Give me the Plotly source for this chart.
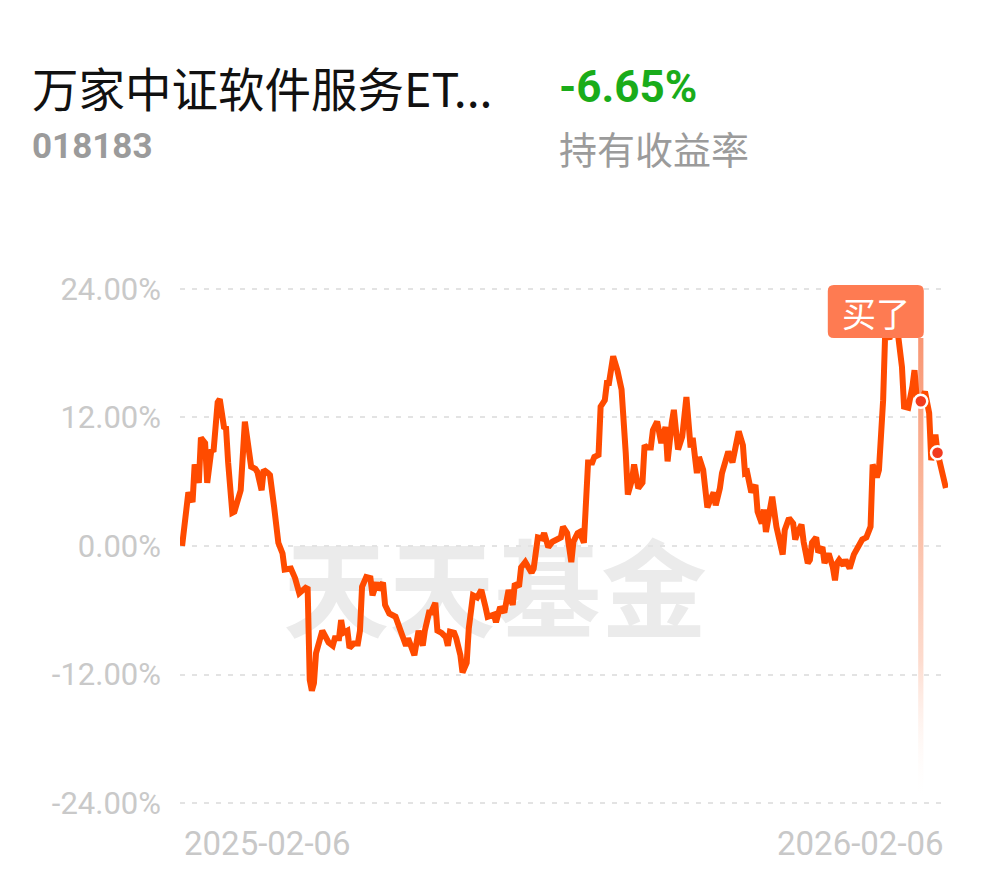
import plotly.graph_objects as go

# ---------------- data ----------------
fund_name = "万家中证软件服务ET..."
fund_code = "018183"
holding_return = "-6.65%"
holding_label = "持有收益率"
start_label = "2025-02-06"
end_label = "2026-02-06"
watermark = "天天基金"
buy_text = "买了"

y_ticks = [-24, -12, 0, 12, 24]
y_tick_text = ["-24.00%", "-12.00%", "0.00%", "12.00%", "24.00%"]

# calendar-day offset from 2025-02-06
days = [0, 3, 5, 6, 8, 9, 11, 12, 14, 15, 17, 18, 20, 21, 22, 24, 25, 28, 30, 31,
        33, 35, 36, 38, 39, 41, 42, 44, 46, 48, 49, 52, 54, 56, 59, 60, 61, 62, 63, 64,
        65, 67, 70, 72, 73, 75, 76, 77, 79, 80, 82, 84, 85, 86, 88, 90, 91, 93, 94, 96,
        97, 99, 102, 103, 105, 107, 108, 110, 111, 113, 115, 116, 118, 119, 121, 122, 124, 126, 127, 128,
        130, 131, 133, 134, 136, 137, 139, 141, 143, 145, 146, 149, 150, 152, 154, 156, 158, 159, 161, 162,
        164, 167, 168, 170, 172, 173, 175, 177, 179, 181, 182, 184, 186, 187, 189, 190, 192, 193, 194, 196,
        197, 199, 200, 202, 203, 204, 206, 208, 209, 210, 212, 213, 215, 216, 218, 220, 221, 222, 224, 225,
        227, 228, 229, 231, 232, 234, 235, 236, 237, 239, 240, 241, 243, 244, 246, 247, 249, 251, 252, 254,
        255, 257, 258, 261, 263, 265, 266, 268, 269, 270, 272, 274, 275, 277, 278, 279, 281, 282, 284, 287,
        288, 290, 292, 293, 294, 296, 297, 299, 300, 301, 303, 304, 306, 307, 309, 311, 312, 313, 314, 316,
        317, 319, 321, 323, 325, 327, 329, 330, 332, 333, 335, 336, 338, 340, 341, 342, 344, 345, 347, 349,
        350, 351, 353, 355, 357, 358, 360, 361, 365]

# holding return, %
returns = [0.0, 5.0, 4.1, 7.6, 5.9, 10.1, 9.6, 5.9, 9.0, 8.8, 13.4, 13.7, 11.1, 11.0, 7.8, 3.1, 3.2, 5.2, 11.6, 10.2,
           7.4, 7.2, 6.9, 5.2, 7.1, 6.8, 6.6, 3.6, 0.3, -0.7, -2.2, -2.1, -3.0, -4.4, -3.9, -4.0, -12.5, -13.5, -12.8, -10.0,
           -9.2, -7.9, -9.0, -9.3, -8.6, -8.6, -6.9, -8.1, -7.9, -9.5, -9.1, -9.1, -7.9, -3.8, -2.9, -3.0, -4.6, -3.4, -4.1, -3.4,
           -5.5, -6.3, -6.6, -7.1, -8.3, -9.3, -8.6, -9.5, -10.2, -7.9, -9.3, -7.9, -6.2, -6.2, -5.3, -7.9, -8.1, -8.5, -9.3, -8.0,
           -8.1, -8.6, -10.2, -11.8, -10.9, -7.7, -4.6, -4.8, -4.1, -5.7, -6.6, -6.4, -7.1, -5.7, -6.2, -4.1, -5.5, -3.5, -3.8, -2.0,
           -1.5, -2.5, -2.1, 0.8, 0.7, 1.2, -0.1, 0.4, 0.6, 0.8, 1.8, 1.2, -1.5, 0.4, 1.2, 1.3, 0.3, 5.2, 7.8, 7.8,
           8.3, 8.5, 13.0, 13.6, 15.2, 15.2, 17.7, 16.4, 15.5, 14.6, 8.7, 4.8, 6.2, 7.6, 5.4, 5.9, 9.4, 9.2, 9.2, 10.8,
           11.6, 10.4, 9.6, 11.1, 7.9, 11.5, 12.7, 10.8, 9.0, 10.2, 11.8, 13.9, 9.2, 10.1, 6.8, 8.3, 7.1, 3.6, 4.1, 5.0,
           3.8, 5.4, 6.8, 8.8, 7.8, 9.6, 10.7, 9.4, 6.8, 6.9, 5.0, 5.7, 3.2, 2.1, 3.4, 1.3, 3.1, 4.6, 1.8, -0.8,
           1.5, 2.6, 2.1, 0.6, 1.2, 2.0, 0.4, -1.6, -1.3, 0.3, 0.8, -0.6, -0.1, -1.6, -0.7, -2.0, -3.2, -1.6, -1.3, -1.8,
           -1.3, -2.1, -0.8, -0.1, 0.6, 0.8, 1.8, 7.6, 6.4, 7.1, 13.6, 20.0, 19.3, 20.8, 22.0, 19.9, 16.7, 13.0, 12.9, 14.9,
           16.4, 13.9, 13.5, 14.4, 12.4, 8.0, 10.4, 8.7, 5.4]

trade_days = [353, 361]
buy_day = 353

# ---------------- layout helpers ----------------
W, H = 990, 878
L, R, T, B = 180, 42, 278, 64
PW, PH = W - L - R, H - T - B
Y_RANGE = [-25, 25]
X_RANGE = [-1, 366]


def px(x):
    return (x - L) / PW


def py(y):
    return 1 - (y - T) / PH


line_color = "#ff4b00"
trade_vals = [returns[days.index(d)] for d in trade_days]

fig = go.Figure()

# buy vertical gradient bar
bar_top, bar_bottom = 19.4, -23.4
fig.add_trace(go.Scatter(
    x=[buy_day - 1.25, buy_day + 1.25, buy_day + 1.25, buy_day - 1.25, buy_day - 1.25],
    y=[bar_bottom, bar_bottom, bar_top, bar_top, bar_bottom],
    mode="lines", line=dict(width=0), fill="toself",
    fillgradient=dict(type="vertical",
                      colorscale=[[0, "rgba(255,255,255,0.1)"], [0.3, "rgba(253,215,200,0.9)"],
                                  [0.7, "rgba(250,175,145,0.95)"], [1, "rgba(249,150,115,1)"]]),
    hoverinfo="skip", showlegend=False))

# main line
fig.add_trace(go.Scatter(
    x=days, y=returns, mode="lines",
    line=dict(color=line_color, width=6),
    hoverinfo="skip", showlegend=False))

# trade markers
fig.add_trace(go.Scatter(
    x=trade_days, y=trade_vals, mode="markers",
    marker=dict(size=13, color="#f23b1f", line=dict(color="white", width=2.5)),
    hoverinfo="skip", showlegend=False))

shapes = [
    # watermark below grid
    dict(type="rect", xref="paper", yref="paper",
         x0=px(280), x1=px(710), y0=py(655), y1=py(545),
         line=dict(width=0), fillcolor="rgba(0,0,0,0)", layer="below",
         label=dict(text=watermark, textposition="middle center",
                    font=dict(family="Noto Sans CJK SC", size=106, color="#ebebeb", weight="bold"))),
    # buy label box (rounded), anchored at buy day
    dict(type="path", xref="x", yref="y", xsizemode="pixel", ysizemode="pixel",
         xanchor=buy_day, yanchor=bar_top,
         path="M -87,0 L -3,0 Q 3,0 3,6 L 3,47 Q 3,53 -3,53 L -87,53 Q -93,53 -93,47 L -93,6 Q -93,0 -87,0 Z",
         fillcolor="#fe7b52", line=dict(width=0), layer="above"),
]

annotations = [
    dict(text=fund_name, xref="paper", yref="paper", x=px(30), y=py(86),
         xanchor="left", yanchor="middle", showarrow=False,
         font=dict(family="Noto Sans CJK SC", size=46.5, color="#111111")),
    dict(text="<b>" + fund_code + "</b>", xref="paper", yref="paper", x=px(30), y=py(146),
         xanchor="left", yanchor="middle", showarrow=False,
         font=dict(family="Roboto", size=35, color="#9b9b9b")),
    dict(text="<b>" + holding_return + "</b>", xref="paper", yref="paper", x=px(557), y=py(87),
         xanchor="left", yanchor="middle", showarrow=False,
         font=dict(family="Roboto", size=44, color="#1aac1a")),
    dict(text=holding_label, xref="paper", yref="paper", x=px(557), y=py(147),
         xanchor="left", yanchor="middle", showarrow=False,
         font=dict(family="Noto Sans CJK SC", size=38, color="#9b9b9b")),
    dict(text=start_label, xref="x", yref="paper", x=days[0], y=py(843),
         xanchor="left", yanchor="middle", showarrow=False,
         font=dict(family="Roboto", size=33, color="#c8c8c8")),
    dict(text=end_label, xref="x", yref="paper", x=days[-1], y=py(843),
         xanchor="right", yanchor="middle", showarrow=False,
         font=dict(family="Roboto", size=33, color="#c8c8c8")),
    dict(text=buy_text, xref="x", yref="paper", x=buy_day, xshift=-45, y=py(312),
         xanchor="center", yanchor="middle", showarrow=False,
         font=dict(family="Noto Sans CJK SC", size=34, color="white")),
]

fig.update_layout(
    width=W, height=H, margin=dict(l=L, r=R, t=T, b=B, pad=0),
    paper_bgcolor="white", plot_bgcolor="white",
    shapes=shapes, annotations=annotations, showlegend=False,
    xaxis=dict(range=X_RANGE, showgrid=False, zeroline=False, showline=False,
               showticklabels=False, ticks="", fixedrange=True),
    yaxis=dict(range=Y_RANGE, tickvals=y_ticks, ticktext=y_tick_text,
               showgrid=True, gridcolor="#e3e3e3", gridwidth=2, griddash="5px,7px",
               zeroline=False, showline=False, ticks="", ticklabelstandoff=18,
               tickfont=dict(family="Roboto", size=31, color="#c9c9c9"), fixedrange=True),
)

fig.write_html("out.html", config={"displayModeBar": False},
               post_script="document.body.style.margin='0';")
